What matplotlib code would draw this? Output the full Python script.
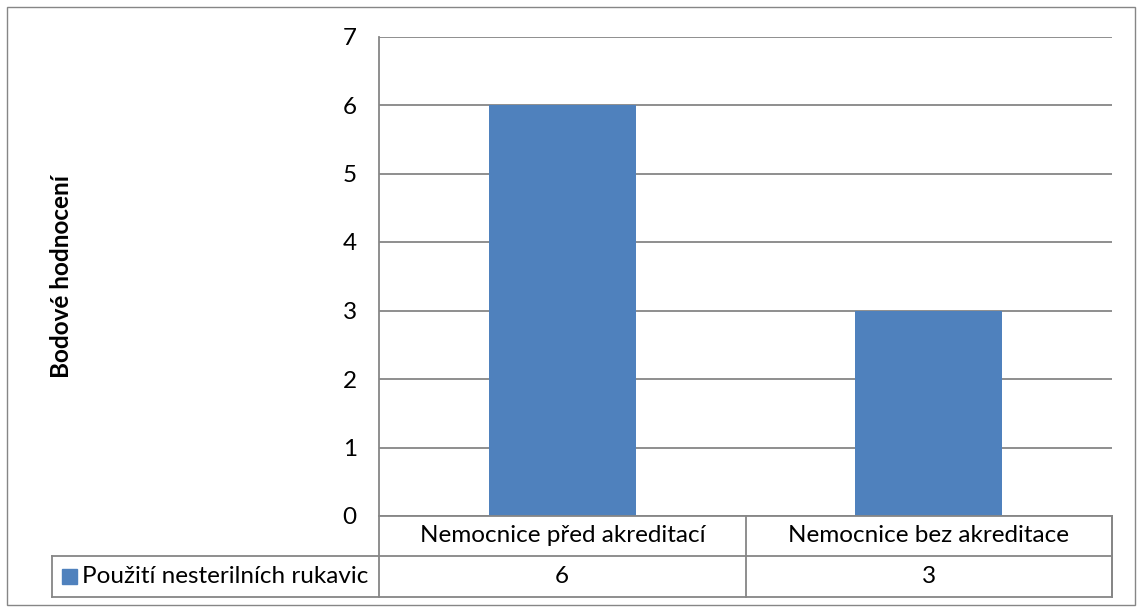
import matplotlib.pyplot as plt
from matplotlib.patches import Rectangle

# data
categories = ["Nemocnice před akreditací", "Nemocnice bez akreditace"]
values = [6, 3]
series_name = "Použití nesterilních rukavic"
y_ticks = [0, 1, 2, 3, 4, 5, 6, 7]

BAR = "#4F81BD"
GRID = "#868686"
FONT = "Lato"
FS = 17.5

W, H = 1137, 610
fig = plt.figure(figsize=(W / 100, H / 100), dpi=100)


def px(x, y):
    # pixel position (from top-left) -> figure fraction
    return x / W, 1 - y / H


def line(x0, y0, x1, y1, lw=1.3):
    a, b = px(x0, y0)
    c, d = px(x1, y1)
    fig.add_artist(plt.Line2D([a, c], [b, d], color=GRID, lw=lw,
                              transform=fig.transFigure))


# outer chart frame
fig.add_artist(Rectangle(px(7, 605), 1128 / W, 598 / H, fill=False,
                         edgecolor=GRID, lw=1.0, transform=fig.transFigure))

left, right, top, bottom = 379, 1112, 36.5, 516
ax = fig.add_axes([left / W, 1 - bottom / H, (right - left) / W, (bottom - top) / H])
x = range(len(categories))
ax.bar(x, values, width=0.4, color=BAR, zorder=3)
ax.set_xlim(-0.5, len(categories) - 0.5)
ax.set_ylim(0, 7)
ax.set_yticks(y_ticks)
ax.set_yticklabels([str(t) for t in y_ticks], fontsize=FS, family=FONT)
ax.yaxis.grid(True, color=GRID, lw=1.3, zorder=0)
ax.tick_params(axis="y", length=0, pad=16)
ax.set_xticks([])
for s in ["top", "right", "bottom"]:
    ax.spines[s].set_visible(False)
ax.spines["left"].set_color(GRID)
ax.spines["left"].set_linewidth(1.3)

ax.set_ylabel("Bodové hodnocení", fontsize=FS, family=FONT, fontweight="bold")
ax.yaxis.set_label_coords(-0.418, 0.5)

# data table under the plot
row1, row2, row3 = 516, 556, 597
cell_w = (right - left) / len(categories)
line(left, row1, right, row1)
line(52, row2, right, row2)
line(52, row3, right, row3)
line(52, row2, 52, row3)
line(right, row1, right, row3)
for i in range(len(categories) + 1):
    xc = left + i * cell_w
    line(xc, row1, xc, row3)

for i, (cat, v) in enumerate(zip(categories, values)):
    xc = left + (i + 0.5) * cell_w
    fig.text(*px(xc, (row1 + row2) / 2), cat, ha="center", va="center",
             fontsize=FS, family=FONT)
    fig.text(*px(xc, (row2 + row3) / 2), str(v), ha="center", va="center",
             fontsize=FS, family=FONT)

fig.add_artist(Rectangle(px(62, 584), 15 / W, 15 / H, color=BAR,
                         transform=fig.transFigure))
fig.text(*px(82, (row2 + row3) / 2), series_name, ha="left", va="center",
         fontsize=FS, family=FONT)

fig.savefig("out.png", dpi=100)
